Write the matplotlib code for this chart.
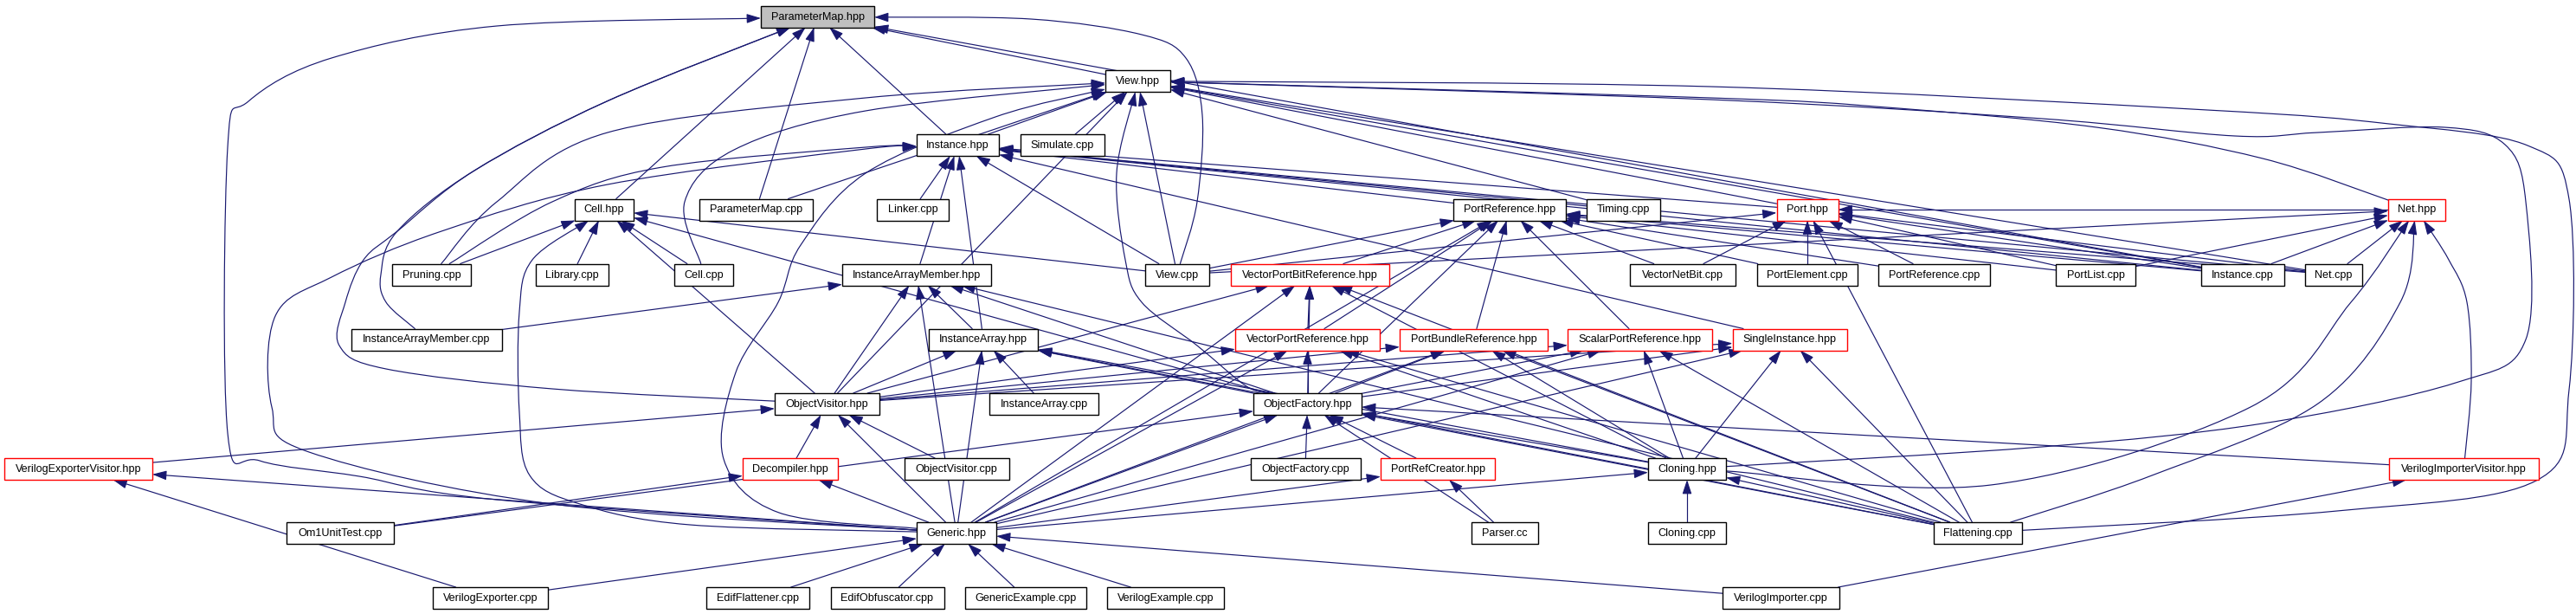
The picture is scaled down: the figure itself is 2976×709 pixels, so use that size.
import numpy as np
import matplotlib
matplotlib.use("Agg")
import matplotlib.pyplot as plt
from matplotlib.patches import Rectangle, FancyArrowPatch
from matplotlib.path import Path

# nodes of the "included by" graph
nodes = [
    "ParameterMap.hpp", "View.hpp", "Instance.hpp", "Simulate.cpp",
    "Cell.hpp", "ParameterMap.cpp", "Linker.cpp", "PortReference.hpp", "Timing.cpp", "Port.hpp", "Net.hpp",
    "Pruning.cpp", "Library.cpp", "Cell.cpp", "InstanceArrayMember.hpp", "View.cpp",
    "VectorPortBitReference.hpp", "VectorNetBit.cpp", "PortElement.cpp", "PortReference.cpp",
    "PortList.cpp", "Instance.cpp", "Net.cpp",
    "InstanceArrayMember.cpp", "InstanceArray.hpp", "VectorPortReference.hpp", "PortBundleReference.hpp",
    "ScalarPortReference.hpp", "SingleInstance.hpp",
    "ObjectVisitor.hpp", "InstanceArray.cpp", "ObjectFactory.hpp",
    "VerilogExporterVisitor.hpp", "Decompiler.hpp", "ObjectVisitor.cpp", "ObjectFactory.cpp",
    "PortRefCreator.hpp", "Cloning.hpp", "VerilogImporterVisitor.hpp",
    "Om1UnitTest.cpp", "Generic.hpp", "Parser.cc", "Cloning.cpp", "Flattening.cpp",
    "VerilogExporter.cpp", "EdifFlattener.cpp", "EdifObfuscator.cpp", "GenericExample.cpp",
    "VerilogExample.cpp", "VerilogImporter.cpp",
]

# nodes whose graph was truncated (red border) and the root node
truncated = ["Port.hpp", "Net.hpp", "VectorPortBitReference.hpp", "VectorPortReference.hpp",
             "PortBundleReference.hpp", "ScalarPortReference.hpp", "SingleInstance.hpp",
             "VerilogExporterVisitor.hpp", "Decompiler.hpp", "PortRefCreator.hpp",
             "VerilogImporterVisitor.hpp"]
root = "ParameterMap.hpp"

# edges: (file, header it includes) -> arrow points at the header
edges = [
    ("View.hpp", "ParameterMap.hpp"), ("Instance.hpp", "ParameterMap.hpp"), ("Instance.hpp", "View.hpp"),
    ("Cell.hpp", "ParameterMap.hpp"), ("ParameterMap.cpp", "ParameterMap.hpp"), ("ParameterMap.cpp", "View.hpp"),
    ("Simulate.cpp", "View.hpp"), ("Linker.cpp", "Instance.hpp"), ("PortReference.hpp", "Instance.hpp"),
    ("Timing.cpp", "View.hpp"), ("Timing.cpp", "Instance.hpp"), ("Port.hpp", "View.hpp"), ("Port.hpp", "Instance.hpp"),
    ("Net.hpp", "View.hpp"), ("Net.hpp", "Port.hpp"),
    ("Pruning.cpp", "Cell.hpp"), ("Pruning.cpp", "View.hpp"), ("Pruning.cpp", "Instance.hpp"),
    ("Library.cpp", "Cell.hpp"), ("Cell.cpp", "Cell.hpp"), ("Cell.cpp", "View.hpp"),
    ("InstanceArrayMember.hpp", "Instance.hpp"),
    ("View.cpp", "View.hpp"), ("View.cpp", "ParameterMap.hpp"), ("View.cpp", "Instance.hpp"), ("View.cpp", "Cell.hpp"),
    ("View.cpp", "PortReference.hpp"), ("View.cpp", "Port.hpp"), ("View.cpp", "Net.hpp"),
    ("VectorPortBitReference.hpp", "PortReference.hpp"),
    ("VectorNetBit.cpp", "PortReference.hpp"), ("VectorNetBit.cpp", "Port.hpp"),
    ("PortElement.cpp", "Port.hpp"), ("PortElement.cpp", "PortReference.hpp"),
    ("PortReference.cpp", "Port.hpp"), ("PortReference.cpp", "PortReference.hpp"),
    ("PortList.cpp", "Port.hpp"), ("PortList.cpp", "PortReference.hpp"), ("PortList.cpp", "Net.hpp"),
    ("Instance.cpp", "Instance.hpp"), ("Instance.cpp", "Port.hpp"), ("Instance.cpp", "PortReference.hpp"),
    ("Instance.cpp", "View.hpp"), ("Instance.cpp", "ParameterMap.hpp"), ("Instance.cpp", "Net.hpp"),
    ("Net.cpp", "Net.hpp"), ("Net.cpp", "Port.hpp"), ("Net.cpp", "PortReference.hpp"), ("Net.cpp", "View.hpp"),
    ("Net.cpp", "Instance.hpp"),
    ("InstanceArrayMember.cpp", "InstanceArrayMember.hpp"), ("InstanceArrayMember.cpp", "ParameterMap.hpp"),
    ("InstanceArray.hpp", "Instance.hpp"), ("InstanceArray.hpp", "InstanceArrayMember.hpp"),
    ("VectorPortReference.hpp", "VectorPortBitReference.hpp"), ("VectorPortReference.hpp", "PortReference.hpp"),
    ("PortBundleReference.hpp", "PortReference.hpp"), ("ScalarPortReference.hpp", "PortReference.hpp"),
    ("SingleInstance.hpp", "Instance.hpp"),
    ("ObjectVisitor.hpp", "ParameterMap.hpp"), ("ObjectVisitor.hpp", "Cell.hpp"), ("ObjectVisitor.hpp", "View.hpp"),
    ("ObjectVisitor.hpp", "InstanceArrayMember.hpp"), ("ObjectVisitor.hpp", "InstanceArray.hpp"),
    ("ObjectVisitor.hpp", "VectorPortBitReference.hpp"), ("ObjectVisitor.hpp", "VectorPortReference.hpp"),
    ("ObjectVisitor.hpp", "PortBundleReference.hpp"), ("ObjectVisitor.hpp", "ScalarPortReference.hpp"),
    ("ObjectVisitor.hpp", "SingleInstance.hpp"),
    ("InstanceArray.cpp", "InstanceArray.hpp"),
    ("ObjectFactory.hpp", "View.hpp"), ("ObjectFactory.hpp", "Cell.hpp"), ("ObjectFactory.hpp", "InstanceArray.hpp"),
    ("ObjectFactory.hpp", "InstanceArrayMember.hpp"), ("ObjectFactory.hpp", "VectorPortBitReference.hpp"),
    ("ObjectFactory.hpp", "VectorPortReference.hpp"), ("ObjectFactory.hpp", "PortBundleReference.hpp"),
    ("ObjectFactory.hpp", "ScalarPortReference.hpp"), ("ObjectFactory.hpp", "SingleInstance.hpp"),
    ("ObjectFactory.hpp", "PortReference.hpp"),
    ("VerilogExporterVisitor.hpp", "ObjectVisitor.hpp"), ("Decompiler.hpp", "ObjectVisitor.hpp"),
    ("ObjectVisitor.cpp", "ObjectVisitor.hpp"), ("ObjectFactory.cpp", "ObjectFactory.hpp"),
    ("PortRefCreator.hpp", "ObjectFactory.hpp"),
    ("Cloning.hpp", "ObjectFactory.hpp"), ("Cloning.hpp", "InstanceArray.hpp"), ("Cloning.hpp", "VectorPortReference.hpp"),
    ("Cloning.hpp", "PortBundleReference.hpp"), ("Cloning.hpp", "ScalarPortReference.hpp"),
    ("Cloning.hpp", "SingleInstance.hpp"), ("Cloning.hpp", "VectorPortBitReference.hpp"), ("Cloning.hpp", "View.hpp"),
    ("Cloning.hpp", "Net.hpp"),
    ("VerilogImporterVisitor.hpp", "ObjectFactory.hpp"), ("VerilogImporterVisitor.hpp", "Net.hpp"),
    ("Om1UnitTest.cpp", "Decompiler.hpp"), ("Om1UnitTest.cpp", "ObjectFactory.hpp"),
    ("Generic.hpp", "ParameterMap.hpp"), ("Generic.hpp", "View.hpp"), ("Generic.hpp", "Instance.hpp"),
    ("Generic.hpp", "Cell.hpp"), ("Generic.hpp", "InstanceArrayMember.hpp"), ("Generic.hpp", "InstanceArray.hpp"),
    ("Generic.hpp", "PortReference.hpp"), ("Generic.hpp", "VectorPortBitReference.hpp"),
    ("Generic.hpp", "VectorPortReference.hpp"), ("Generic.hpp", "PortBundleReference.hpp"),
    ("Generic.hpp", "ScalarPortReference.hpp"), ("Generic.hpp", "SingleInstance.hpp"),
    ("Generic.hpp", "ObjectVisitor.hpp"), ("Generic.hpp", "ObjectFactory.hpp"),
    ("Generic.hpp", "VerilogExporterVisitor.hpp"), ("Generic.hpp", "Decompiler.hpp"),
    ("Generic.hpp", "PortRefCreator.hpp"), ("Generic.hpp", "Cloning.hpp"),
    ("Parser.cc", "PortRefCreator.hpp"), ("Parser.cc", "ObjectFactory.hpp"), ("Cloning.cpp", "Cloning.hpp"),
    ("Flattening.cpp", "Cloning.hpp"), ("Flattening.cpp", "ObjectFactory.hpp"), ("Flattening.cpp", "SingleInstance.hpp"),
    ("Flattening.cpp", "ScalarPortReference.hpp"), ("Flattening.cpp", "PortBundleReference.hpp"),
    ("Flattening.cpp", "VectorPortReference.hpp"), ("Flattening.cpp", "InstanceArray.hpp"),
    ("Flattening.cpp", "VectorPortBitReference.hpp"), ("Flattening.cpp", "InstanceArrayMember.hpp"),
    ("Flattening.cpp", "Net.hpp"), ("Flattening.cpp", "View.hpp"), ("Flattening.cpp", "Port.hpp"),
    ("VerilogExporter.cpp", "VerilogExporterVisitor.hpp"), ("VerilogExporter.cpp", "Generic.hpp"),
    ("EdifFlattener.cpp", "Generic.hpp"), ("EdifObfuscator.cpp", "Generic.hpp"),
    ("GenericExample.cpp", "Generic.hpp"), ("VerilogExample.cpp", "Generic.hpp"),
    ("VerilogImporter.cpp", "VerilogImporterVisitor.hpp"), ("VerilogImporter.cpp", "Generic.hpp"),
]

# layout: centre x, centre y, box width (pixels of the 2976x709 picture)
layout = {
    "ParameterMap.hpp": (944.5, 19, 131), "View.hpp": (1314.5, 93.5, 75),
    "Instance.hpp": (1106.5, 167.5, 95), "Simulate.cpp": (1227.5, 167.5, 97),
    "Cell.hpp": (698, 242, 68), "ParameterMap.cpp": (873.5, 242, 131), "Linker.cpp": (1054.5, 242, 83),
    "PortReference.hpp": (1744, 242, 130), "Timing.cpp": (1875.5, 242, 85), "Port.hpp": (2088, 242, 71),
    "Net.hpp": (2792, 242, 66),
    "Pruning.cpp": (498.5, 317, 91), "Library.cpp": (661, 317, 84), "Cell.cpp": (813, 317, 68),
    "InstanceArrayMember.hpp": (1059, 317, 172), "View.cpp": (1360, 317, 74),
    "VectorPortBitReference.hpp": (1513.5, 317, 183), "VectorNetBit.cpp": (1944, 317, 122),
    "PortElement.cpp": (2088, 317, 116), "PortReference.cpp": (2234.5, 317, 129),
    "PortList.cpp": (2421, 317, 92), "Instance.cpp": (2590.5, 317, 96), "Net.cpp": (2696, 317, 66),
    "InstanceArrayMember.cpp": (493, 392, 174), "InstanceArray.hpp": (1136, 392, 126),
    "VectorPortReference.hpp": (1510.5, 392, 167), "PortBundleReference.hpp": (1702.5, 392, 171),
    "ScalarPortReference.hpp": (1894.5, 392, 167), "SingleInstance.hpp": (2067.5, 392, 132),
    "ObjectVisitor.hpp": (955.5, 466.5, 121), "InstanceArray.cpp": (1206, 466.5, 126),
    "ObjectFactory.hpp": (1510.5, 466.5, 125),
    "VerilogExporterVisitor.hpp": (90.5, 541.5, 171), "Decompiler.hpp": (913, 541.5, 110),
    "ObjectVisitor.cpp": (1105, 541.5, 121), "ObjectFactory.cpp": (1508, 541.5, 127),
    "PortRefCreator.hpp": (1661, 541.5, 132), "Cloning.hpp": (1949, 541.5, 90),
    "VerilogImporterVisitor.hpp": (2846.5, 541.5, 173),
    "Om1UnitTest.cpp": (393, 615.5, 124), "Generic.hpp": (1105, 615.5, 92), "Parser.cc": (1738.5, 615.5, 77),
    "Cloning.cpp": (1949, 615.5, 90), "Flattening.cpp": (2285, 615.5, 102),
    "VerilogExporter.cpp": (566.5, 690.5, 133), "EdifFlattener.cpp": (875.5, 690.5, 119),
    "EdifObfuscator.cpp": (1025, 690.5, 131), "GenericExample.cpp": (1185, 690.5, 140),
    "VerilogExample.cpp": (1346.5, 690.5, 135), "VerilogImporter.cpp": (2057.5, 690.5, 135),
}
BOX_H = 25

# bend points for the long routed splines
via = {
    ("Generic.hpp", "ParameterMap.hpp"): [(574, 577), (415, 550), (300, 532), (263, 500), (263, 170),
                                          (287, 117), (383, 67), (574, 30)],
    ("Generic.hpp", "Instance.hpp"): [(638, 582), (357, 522), (314, 470), (318, 365), (383, 320), (510, 267),
                                      (702, 213), (1000, 172)],
    ("Generic.hpp", "View.hpp"): [(900, 592), (836, 530), (850, 430), (899, 349), (925, 283), (1000, 200),
                                  (1150, 135)],
    ("Generic.hpp", "Cell.hpp"): [(797, 606), (670, 582), (612, 549), (600, 476), (600, 360), (615, 300)],
    ("View.cpp", "ParameterMap.hpp"): [(1383, 233), (1389, 133), (1370, 67), (1319, 40), (1191, 22)],
    ("ObjectVisitor.hpp", "ParameterMap.hpp"): [(638, 449), (446, 426), (392, 399), (399, 349), (420, 300),
                                                (459, 267), (548, 197), (701, 117)],
    ("InstanceArrayMember.cpp", "ParameterMap.hpp"): [(446, 349), (440, 317), (459, 267), (548, 197), (701, 117)],
    ("Pruning.cpp", "View.hpp"): [(574, 233), (702, 153), (1000, 113)],
    ("Pruning.cpp", "Instance.hpp"): [(638, 233), (765, 193), (1000, 170)],
    ("Cell.cpp", "View.hpp"): [(791, 233), (848, 173), (1000, 128)],
    ("ObjectFactory.hpp", "View.hpp"): [(1440, 446), (1383, 399), (1319, 349), (1300, 300), (1290, 200)],
    ("Flattening.cpp", "View.hpp"): [(2700, 590), (2930, 555), (2968, 450), (2968, 230), (2920, 168),
                                     (2760, 143), (2550, 127), (1976, 100)],
    ("Cloning.hpp", "View.hpp"): [(2359, 516), (2614, 489), (2837, 442), (2918, 392), (2918, 233),
                                  (2894, 167), (2824, 147), (2678, 153), (2582, 157), (2359, 137), (1976, 115)],
    ("Net.hpp", "View.hpp"): [(2614, 183), (2422, 147), (2167, 123), (1976, 113)],
    ("VerilogImporterVisitor.hpp", "Net.hpp"): [(2855, 440), (2850, 349), (2829, 300)],
    ("Flattening.cpp", "Net.hpp"): [(2486, 549), (2678, 466), (2773, 349)],
    ("Cloning.hpp", "Net.hpp"): [(2300, 560), (2600, 470), (2716, 349)],
}

EDGE = "#191970"


def box_point(name, toward):
    cx, cy, w = layout[name]
    dx, dy = toward[0] - cx, toward[1] - cy
    if dx == 0 and dy == 0:
        return cx, cy
    t = min((w / 2) / abs(dx) if dx else 1e9, (BOX_H / 2) / abs(dy) if dy else 1e9)
    return cx + dx * t, cy + dy * t


def edge_path(src, dst):
    mids = via.get((src, dst), [])
    s_c = layout[src][:2]
    d_c = layout[dst][:2]
    p0 = box_point(src, mids[0] if mids else d_c)
    p1 = box_point(dst, mids[-1] if mids else s_c)
    pts = np.array([p0] + mids + [p1], dtype=float)
    if len(pts) == 2:
        return Path(pts, [Path.MOVETO, Path.LINETO])
    # catmull-rom through the points as cubic beziers
    ext = np.vstack([pts[0], pts, pts[-1]])
    verts = [pts[0]]
    codes = [Path.MOVETO]
    for i in range(1, len(ext) - 2):
        a, b, c, d = ext[i - 1], ext[i], ext[i + 1], ext[i + 2]
        verts += [b + (c - a) / 6, c - (d - b) / 6, c]
        codes += [Path.CURVE4] * 3
    return Path(np.array(verts), codes)


fig = plt.figure(figsize=(29.76, 7.09), dpi=100)
ax = fig.add_axes([0, 0, 1, 1])
ax.set_xlim(0, 2976)
ax.set_ylim(709, 0)
ax.axis("off")

for src, dst in edges:
    arr = FancyArrowPatch(path=edge_path(src, dst), arrowstyle="-|>,head_length=1.0,head_width=0.33",
                          mutation_scale=10, color=EDGE, lw=0.85, zorder=1)
    ax.add_patch(arr)

for name in nodes:
    cx, cy, w = layout[name]
    x0, y0 = cx - w / 2, cy - BOX_H / 2
    # slight shadow on the right/bottom like the doxygen boxes
    ax.add_patch(Rectangle((x0 + 1.2, y0 + 1.2), w, BOX_H, facecolor="#555555", edgecolor="none", zorder=2))
    face = "#bfbfbf" if name == root else "white"
    edge = "#ff0000" if name in truncated else "black"
    ax.add_patch(Rectangle((x0, y0), w, BOX_H, facecolor=face, edgecolor=edge, lw=1.0, zorder=3))
    ax.text(cx, cy + 0.5, name, ha="center", va="center", fontsize=9.1,
            family=["Liberation Sans", "DejaVu Sans"], color="black", zorder=4)

fig.savefig("out.png", dpi=100, facecolor="white")
